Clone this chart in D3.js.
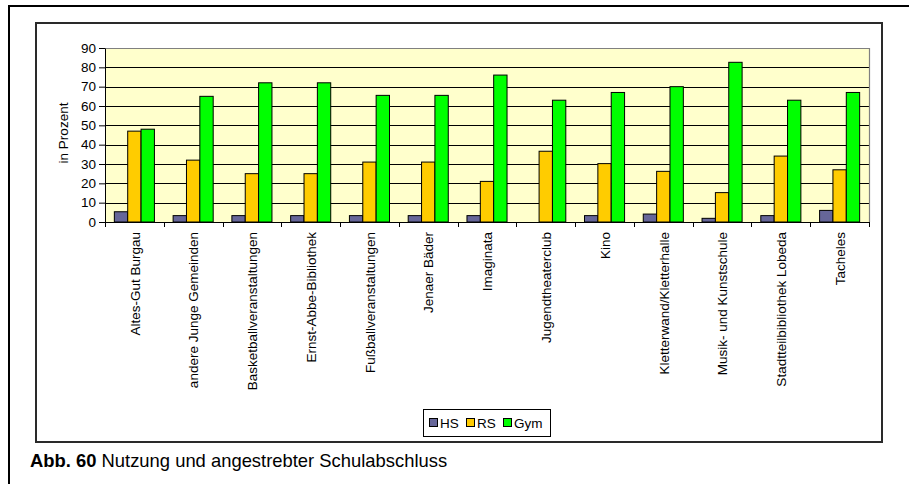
<!DOCTYPE html>
<html>
<head>
<meta charset="utf-8">
<script src="https://cdn.jsdelivr.net/npm/d3@7"></script>
<style>
  html, body { margin: 0; padding: 0; background: #fff; }
  svg { display: block; font-family: "Liberation Sans", Arial, sans-serif; }
</style>
</head>
<body>
<svg id="chart" width="909" height="484"></svg>
<script>
// ---- data ----
const categories = ["Altes-Gut Burgau", "andere Junge Gemeinden", "Basketballveranstaltungen",
  "Ernst-Abbe-Bibliothek", "Fußballveranstaltungen", "Jenaer Bäder", "Imaginata",
  "Jugendtheaterclub", "Kino", "Kletterwand/Kletterhalle", "Musik- und Kunstschule",
  "Stadtteilbibliothek Lobeda", "Tacheles"];
const seriesNames = ["HS", "RS", "Gym"];
const hsValues  = [5.3, 3.3, 3.3, 3.3, 3.3, 3.3, 3.3, 0, 3.3, 4.1, 1.9, 3.3, 6];
const rsValues  = [47, 32, 25, 25, 31, 31, 21, 36.6, 30.2, 26.2, 15.2, 34.1, 27];
const gymValues = [48, 65, 72, 72, 65.5, 65.5, 76, 63, 67, 70, 82.6, 63, 67];
const seriesColors = ["#666699", "#FFCC00", "#00FF00"];
const yTicks = [0, 10, 20, 30, 40, 50, 60, 70, 80, 90];
const yTitle = "in Prozent";
const captionBold = "Abb. 60";
const captionText = " Nutzung und angestrebter Schulabschluss";

const seriesValues = [hsValues, rsValues, gymValues];

(function () {
const svg = d3.select("#chart");
const fs = 13.5;

// outer frame
svg.append("rect").attr("x", 9).attr("y", 6).attr("width", 920).attr("height", 500)
  .attr("fill", "none").attr("stroke", "#000").attr("stroke-width", 2);
// chart area frame
svg.append("rect").attr("x", 36).attr("y", 23).attr("width", 846).attr("height", 419)
  .attr("fill", "#fff").attr("stroke", "#2a2a2a").attr("stroke-width", 2);

const pL = 105, pR = 869, pT = 48, pB = 222;

const x0 = d3.scaleBand().domain(categories).range([pL, pR]).padding(0);
const x1 = d3.scaleBand().domain(seriesNames).range([0, x0.bandwidth()])
  .paddingInner(0).paddingOuter(0.7);
const y = d3.scaleLinear().domain([0, 90]).range([pB, pT]);

// plot background
svg.append("rect").attr("x", pL).attr("y", pT).attr("width", pR - pL)
  .attr("height", pB - pT).attr("fill", "#FFFFCC");

// gridlines
svg.append("g").selectAll("line").data(yTicks.filter(t => t > 0 && t < 90)).join("line")
  .attr("x1", pL).attr("x2", pR)
  .attr("y1", d => Math.round(y(d)) + 0.5).attr("y2", d => Math.round(y(d)) + 0.5)
  .attr("stroke", "#000").attr("stroke-width", 1);

// plot border top/right
svg.append("path")
  .attr("d", `M${pL},${pT + 0.5}H${pR + 0.5}V${pB}`)
  .attr("fill", "none").attr("stroke", "#808080").attr("stroke-width", 1.2);

// bars
const groups = svg.append("g").selectAll("g").data(categories).join("g")
  .attr("transform", d => `translate(${x0(d)},0)`);
groups.selectAll("rect")
  .data((c, i) => seriesNames.map((s, k) => ({ s, k, v: seriesValues[k][i] })).filter(d => d.v > 0))
  .join("rect")
  .attr("x", d => x1(d.s))
  .attr("width", x1.bandwidth())
  .attr("y", d => y(d.v))
  .attr("height", d => y(0) - y(d.v))
  .attr("fill", d => seriesColors[d.k])
  .attr("stroke", "#000").attr("stroke-width", 1);

// y axis
const yAxis = d3.axisLeft(y).tickValues(yTicks).tickSize(6).tickPadding(3).tickSizeOuter(0);
const ya = svg.append("g").attr("transform", `translate(${pL},0)`).call(yAxis);
ya.select(".domain").attr("stroke", "#000");
ya.selectAll("line").attr("stroke", "#000");
ya.selectAll("text").attr("font-size", fs).attr("fill", "#000")
  .attr("font-family", "'Liberation Sans', Arial, sans-serif");

// x axis line and ticks at category boundaries
svg.append("line").attr("x1", pL).attr("x2", pR)
  .attr("y1", pB + 0.5).attr("y2", pB + 0.5).attr("stroke", "#000");
const boundaries = categories.map(c => x0(c)).concat([pR]);
svg.append("g").selectAll("line").data(boundaries).join("line")
  .attr("x1", d => Math.round(d) + 0.5).attr("x2", d => Math.round(d) + 0.5)
  .attr("y1", pB).attr("y2", pB + 5).attr("stroke", "#000");

// category labels
svg.append("g").selectAll("text").data(categories).join("text")
  .attr("transform", d => `translate(${x0(d) + x0.bandwidth() / 2 + 0.5},${pB + 10}) rotate(-90)`)
  .attr("text-anchor", "end").attr("dy", "0.35em")
  .attr("font-size", fs).attr("fill", "#000")
  .text(d => d);

// y title
svg.append("text")
  .attr("transform", `translate(63,133) rotate(-90)`)
  .attr("text-anchor", "middle").attr("dy", "0.35em")
  .attr("font-size", fs).attr("fill", "#000").text(yTitle);

// legend
const lg = svg.append("g");
lg.append("rect").attr("x", 423.5).attr("y", 409.5).attr("width", 127).attr("height", 27)
  .attr("fill", "#fff").attr("stroke", "#000").attr("stroke-width", 1);
const legendX = [429, 466, 503];
seriesNames.forEach((s, k) => {
  lg.append("rect").attr("x", legendX[k] + 0.5).attr("y", 418.5).attr("width", 8).attr("height", 8)
    .attr("fill", seriesColors[k]).attr("stroke", "#000").attr("stroke-width", 1);
  lg.append("text").attr("x", legendX[k] + 11).attr("y", 423).attr("dy", "0.35em")
    .attr("font-size", fs).attr("fill", "#000").text(s);
});

// caption
const cap = svg.append("text").attr("x", 30).attr("y", 467).attr("font-size", 18.4).attr("fill", "#000");
cap.append("tspan").attr("font-weight", "bold").text(captionBold);
cap.append("tspan").attr("xml:space", "preserve").text(captionText);
})();
</script>
</body>
</html>
